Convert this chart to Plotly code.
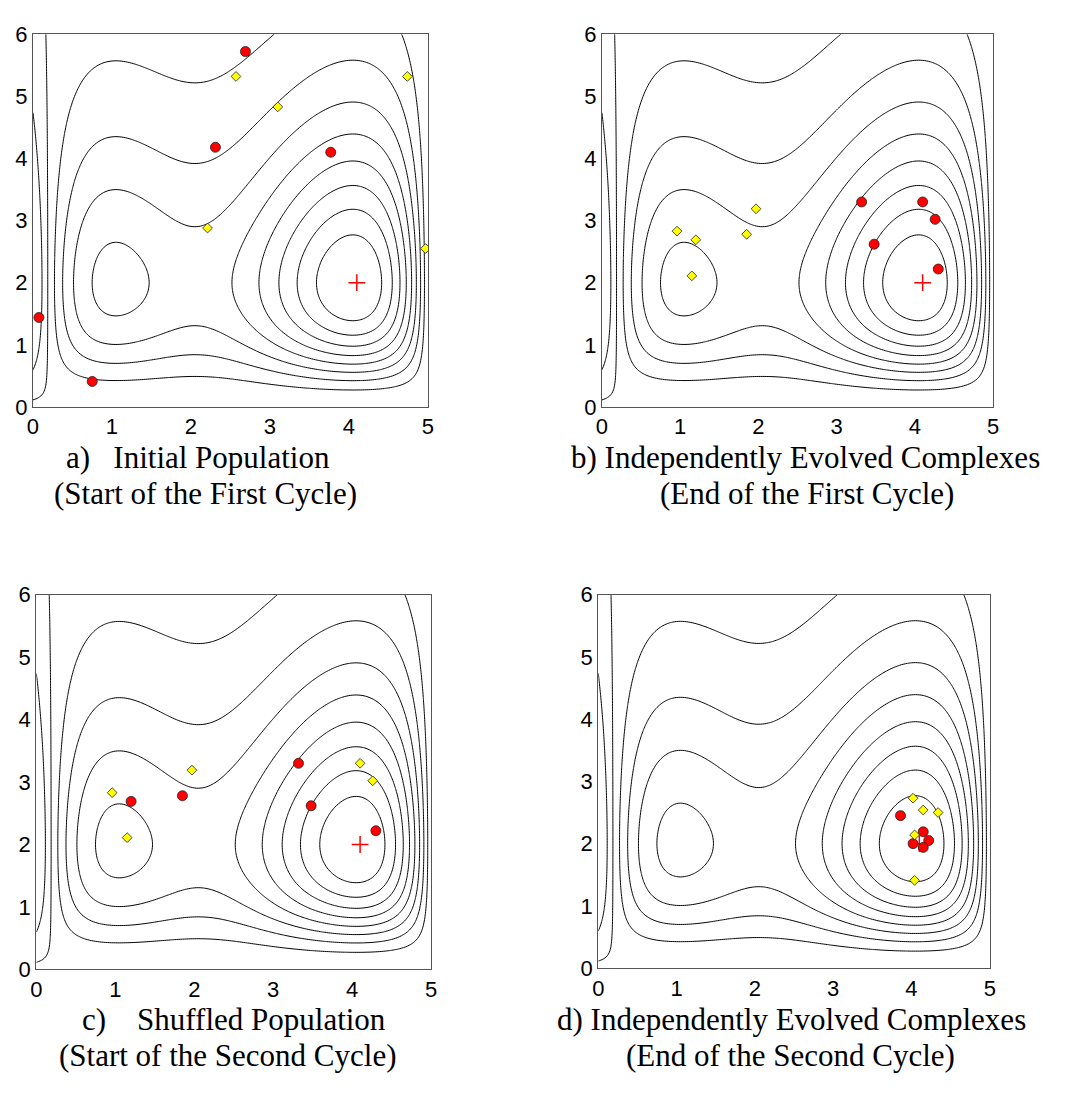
import numpy as np
import plotly.graph_objects as go

# ---------------- data ----------------
# Hosaki test function: f(x, y) = (1 - 8x + 7x^2 - 7/3 x^3 + 1/4 x^4) * y^2 * exp(-y)
HOSAKI_COEFS = [1.0, -8.0, 7.0, -7.0 / 3.0, 0.25]
X_RANGE = [0, 5]
Y_RANGE = [0, 6]
N_LEVELS = 10
CONTOUR_X_SHIFT = 0.05   # contours in the source sit slightly right of the analytic surface
X_TICKS = [0, 1, 2, 3, 4, 5]
Y_TICKS = [0, 1, 2, 3, 4, 5, 6]

optimum_x = [4.1]
optimum_y = [2.0]

# panel a) initial population
a_red_x = [2.69, 2.31, 3.77, 0.075, 0.75]
a_red_y = [5.72, 4.18, 4.10, 1.44, 0.41]
a_yel_x = [2.57, 3.10, 4.74, 2.21, 4.97]
a_yel_y = [5.32, 4.83, 5.32, 2.88, 2.55]

# panel b) end of first cycle
b_red_x = [3.32, 4.10, 4.26, 3.48, 4.30]
b_red_y = [3.30, 3.30, 3.02, 2.62, 2.22]
b_yel_x = [1.97, 0.96, 1.20, 1.85, 1.15]
b_yel_y = [3.19, 2.83, 2.69, 2.78, 2.11]

# panel c) shuffled population
c_red_x = [3.32, 1.85, 1.20, 3.48, 4.30]
c_red_y = [3.30, 2.78, 2.69, 2.62, 2.22]
c_yel_x = [1.97, 0.96, 4.10, 4.26, 1.15]
c_yel_y = [3.19, 2.83, 3.30, 3.02, 2.11]

# panel d) end of second cycle
d_red_x = [3.86, 4.15, 4.02, 4.22, 4.15]
d_red_y = [2.45, 2.19, 2.00, 2.05, 1.94]
d_yel_x = [4.02, 4.15, 4.34, 4.04, 4.04]
d_yel_y = [2.73, 2.54, 2.50, 2.14, 1.41]

titles = [
    ["a)\u00a0\u00a0\u00a0Initial Population", "(Start of the First Cycle)"],
    ["b) Independently Evolved Complexes", "(End of the First Cycle)"],
    ["c)\u00a0\u00a0\u00a0\u00a0Shuffled Population", "(Start of the Second Cycle)"],
    ["d) Independently Evolved Complexes", "(End of the Second Cycle)"],
]


# ---------------- surface ----------------
def hosaki(xv, yv):
    pv = sum(c * xv ** k for k, c in enumerate(HOSAKI_COEFS))
    gv = yv ** 2 * np.exp(-yv)
    return np.outer(gv, pv)


gx = np.linspace(X_RANGE[0], X_RANGE[1], 201)
gy = np.linspace(Y_RANGE[0], Y_RANGE[1], 241)
Z_true = hosaki(gx, gy)
zmin, zmax = float(Z_true.min()), float(Z_true.max())
step = (zmax - zmin) / (N_LEVELS + 1)
Z = hosaki(gx - CONTOUR_X_SHIFT, gy)

W, H = 1065, 1118
# plot boxes in pixels (left, right, top, bottom)
boxes = [
    (27.3, 426.7, 22.7, 404.0),
    (602.7, 998.3, 22.7, 404.0),
    (30.7, 430.0, 596.0, 979.3),
    (599.0, 995.0, 596.0, 978.0),
]
title_pos = [
    (194, 456, 202, 493),
    (809, 456, 810, 493),
    (231, 1031, 224, 1067),
    (794, 1031, 793, 1067),
]

panels = [
    (a_red_x, a_red_y, a_yel_x, a_yel_y),
    (b_red_x, b_red_y, b_yel_x, b_yel_y),
    (c_red_x, c_red_y, c_yel_x, c_yel_y),
    (d_red_x, d_red_y, d_yel_x, d_yel_y),
]

fig = go.Figure()
layout = dict(
    width=W, height=H, margin=dict(l=0, r=0, t=0, b=0),
    paper_bgcolor="white", plot_bgcolor="white", showlegend=False,
    annotations=[],
)

for i, (rx, ry, yx, yy) in enumerate(panels):
    n = "" if i == 0 else str(i + 1)
    xa, ya = "x" + n, "y" + n
    fig.add_trace(go.Contour(
        x=gx, y=gy, z=Z, xaxis=xa, yaxis=ya,
        contours=dict(coloring="lines", start=zmin + step,
                      end=zmin + N_LEVELS * step + 1e-9, size=step),
        colorscale=[[0, "black"], [1, "black"]],
        line=dict(width=1, color="black"), showscale=False,
        hoverinfo="skip",
    ))
    fig.add_trace(go.Scatter(
        x=optimum_x, y=optimum_y, xaxis=xa, yaxis=ya, mode="markers",
        marker=dict(symbol="cross-thin", size=12, line=dict(color="red", width=1.5)),
    ))
    fig.add_trace(go.Scatter(
        x=rx, y=ry, xaxis=xa, yaxis=ya, mode="markers",
        marker=dict(symbol="circle", size=10, color="#FF0000",
                    line=dict(color="#222222", width=0.8)),
    ))
    fig.add_trace(go.Scatter(
        x=yx, y=yy, xaxis=xa, yaxis=ya, mode="markers",
        marker=dict(symbol="diamond", size=7.5, color="#FFFF00",
                    line=dict(color="#222222", width=0.8)),
    ))
    l, r, t, b = boxes[i]
    axis_common = dict(showgrid=False, zeroline=False, showline=True, mirror=True,
                       linecolor="#555555", linewidth=1.2, ticks="",
                       tickfont=dict(family="Liberation Sans, Arial, sans-serif",
                                     size=22, color="black"))
    layout["xaxis" + n] = dict(domain=[l / W, r / W], range=X_RANGE,
                               tickvals=X_TICKS, anchor=ya, **axis_common)
    layout["yaxis" + n] = dict(domain=[1 - b / H, 1 - t / H], range=Y_RANGE,
                               tickvals=Y_TICKS, anchor=xa, **axis_common)
    x1, y1, x2, y2 = title_pos[i]
    for txt, tx, ty in ((titles[i][0], x1, y1), (titles[i][1], x2, y2)):
        layout["annotations"].append(dict(
            text=txt, xref="paper", yref="paper", x=tx / W, y=1 - ty / H,
            xanchor="center", yanchor="middle", showarrow=False,
            font=dict(family="Liberation Serif, Times New Roman, serif",
                      size=31, color="black"),
        ))

fig.update_layout(**layout)
fig.write_html("out.html",
               config={"displayModeBar": False},
               post_script="document.body.style.margin='0';"
                           "document.body.style.overflow='hidden';")
